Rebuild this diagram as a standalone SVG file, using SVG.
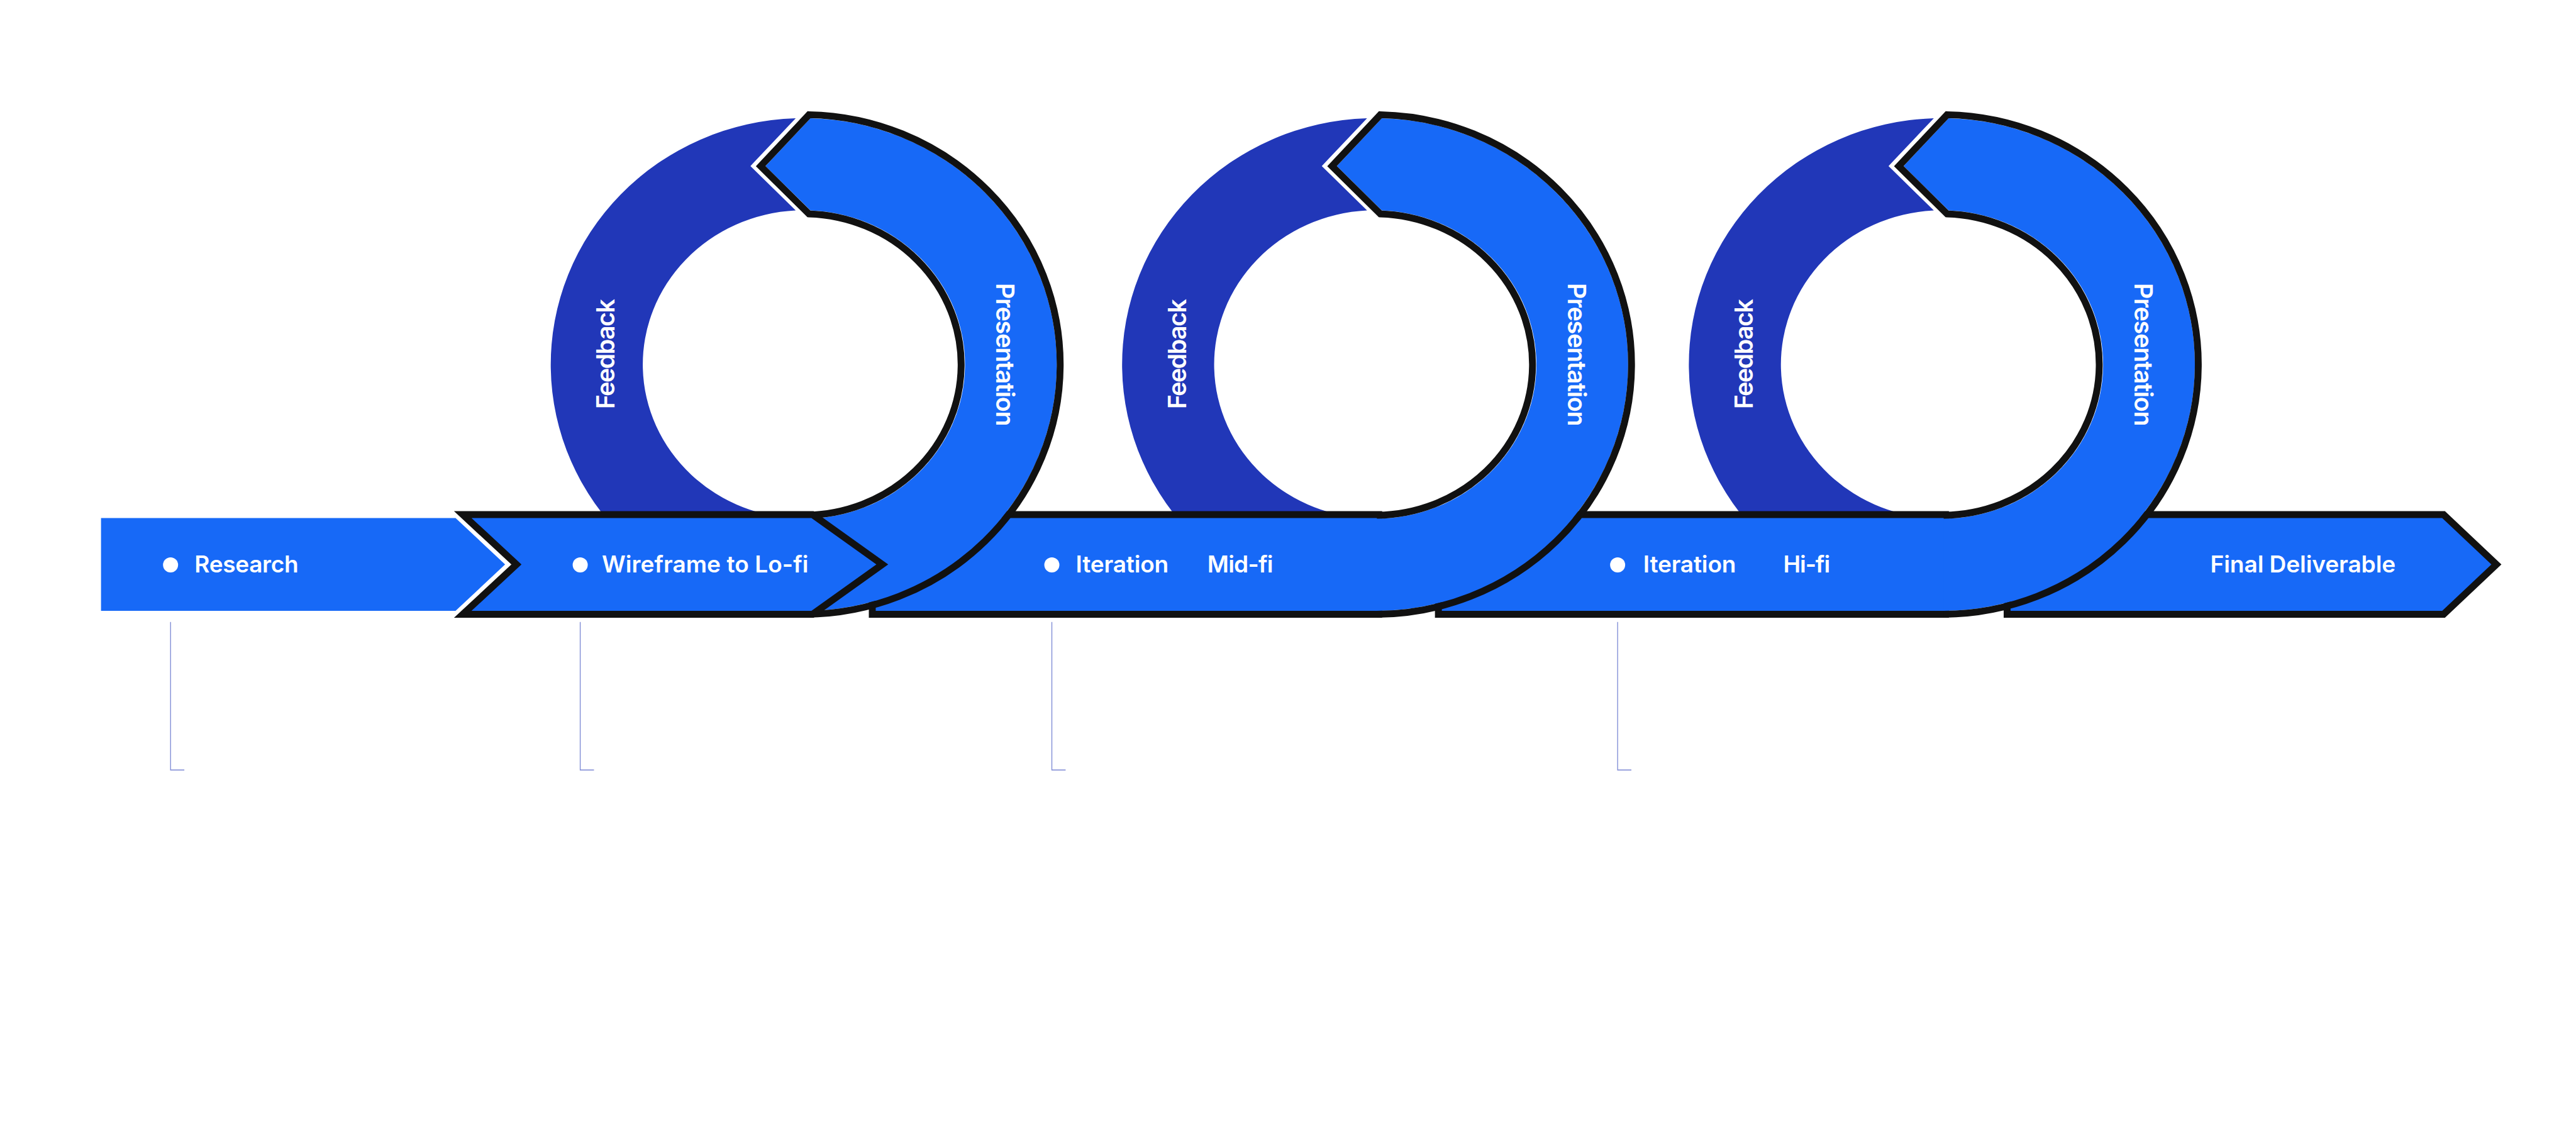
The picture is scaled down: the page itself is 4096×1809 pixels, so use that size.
<svg xmlns="http://www.w3.org/2000/svg" width="4096" height="1809" viewBox="0 0 4096 1809">
<style>
.blue{fill:#1769F7}
.dark{fill:#2137B8}
.bord{fill:#1769F7;stroke:#111111;stroke-width:42;stroke-linejoin:miter;stroke-miterlimit:10;paint-order:stroke}
.outline{fill:none;stroke:#111111;stroke-width:21;stroke-linejoin:miter;stroke-miterlimit:10}
.lbl{font-family:Inter,"Liberation Sans",sans-serif;font-weight:600;fill:#ffffff}
.h{font-size:71px}
.v{font-size:76px}
.lead{fill:none;stroke:#2137B8;stroke-width:2.5;stroke-opacity:0.6}
.dot{fill:#ffffff}
</style>
<defs>
<path id="arcFill" d="M6 1862 A772 751 0 0 0 21 360.3 L-116 506 L21 641.4 A491 470 0 0 1 6 1581 Z"/>
<path id="arcEdge" d="M6 1872.5 A782.5 761.5 0 0 0 16.7 349.7 L-130.7 506.3 L16.2 651.8 A480.5 459.5 0 0 1 6 1570.5"/>
<path id="ring" d="M-24 360.4 A772 751 0 0 0 0 1862 L0 1581 A491 470 0 0 1 -24 641.6 L-162 506 Z"/>
</defs>
<rect width="4096" height="1809" fill="#ffffff"/>
<g transform="scale(0.52152)">
<g id="feedback-1" transform="translate(2450,0)">
<use href="#ring" class="dark"/>
<text class="lbl v" transform="translate(-576,1079) rotate(-90)" text-anchor="middle" textLength="336">Feedback</text>
</g>
<g id="feedback-2" transform="translate(4192,0)">
<use href="#ring" class="dark"/>
<text class="lbl v" transform="translate(-576,1079) rotate(-90)" text-anchor="middle" textLength="336">Feedback</text>
</g>
<g id="feedback-3" transform="translate(5920,0)">
<use href="#ring" class="dark"/>
<text class="lbl v" transform="translate(-576,1079) rotate(-90)" text-anchor="middle" textLength="336">Feedback</text>
</g>
<g id="research">
<path class="blue" d="M308 1579 H1389 L1540 1720.5 L1389 1862 H308 Z"/>
<circle class="dot" cx="520" cy="1722" r="23"/>
<text class="lbl h" x="593" y="1744" textLength="317">Research</text>
</g>
<g id="midfi">
<path class="bord" d="M4214 1579 H2670 V1862 H4214"/>
<circle class="dot" cx="3207" cy="1722" r="23"/>
<text class="lbl h" x="3280" y="1744" textLength="283">Iteration</text>
<text class="lbl h" x="3681" y="1744" textLength="201">Mid-fi</text>
</g>
<g id="hifi">
<path class="bord" d="M5942 1579 H4396 V1862 H5942"/>
<circle class="dot" cx="4932" cy="1722" r="23"/>
<text class="lbl h" x="5010" y="1744" textLength="283">Iteration</text>
<text class="lbl h" x="5437" y="1744" textLength="143">Hi-fi</text>
</g>
<g id="final">
<path class="bord" d="M6130 1579 H7446 L7596 1720.5 L7446 1862 H6130 Z"/>
<text class="lbl h" x="6739" y="1744" textLength="565">Final Deliverable</text>
</g>
<g id="presentation-1" transform="translate(2450,0)">
<use href="#arcFill" class="blue"/>
<use href="#arcEdge" class="outline"/>
<text class="lbl v" transform="translate(588,1081) rotate(90)" text-anchor="middle" textLength="437">Presentation</text>
</g>
<g id="presentation-2" transform="translate(4192,0)">
<use href="#arcFill" class="blue"/>
<use href="#arcEdge" class="outline"/>
<text class="lbl v" transform="translate(588,1081) rotate(90)" text-anchor="middle" textLength="437">Presentation</text>
</g>
<g id="presentation-3" transform="translate(5920,0)">
<use href="#arcFill" class="blue"/>
<use href="#arcEdge" class="outline"/>
<text class="lbl v" transform="translate(588,1081) rotate(90)" text-anchor="middle" textLength="437">Presentation</text>
</g>
<g id="wireframe">
<path class="bord" d="M1437.6 1579 H2474 L2672 1720.5 L2474 1862 H1437.6 L1590 1720.5 Z"/>
<circle class="dot" cx="1769" cy="1722" r="23"/>
<text class="lbl h" x="1835" y="1744" textLength="630">Wireframe to Lo-fi</text>
</g>
<g id="connectors">
<path class="lead" d="M520 1896 V2347 H562"/>
<path class="lead" d="M1769 1896 V2347 H1811"/>
<path class="lead" d="M3207 1896 V2347 H3249"/>
<path class="lead" d="M4932 1896 V2347 H4974"/>
</g>
</g>
</svg>
